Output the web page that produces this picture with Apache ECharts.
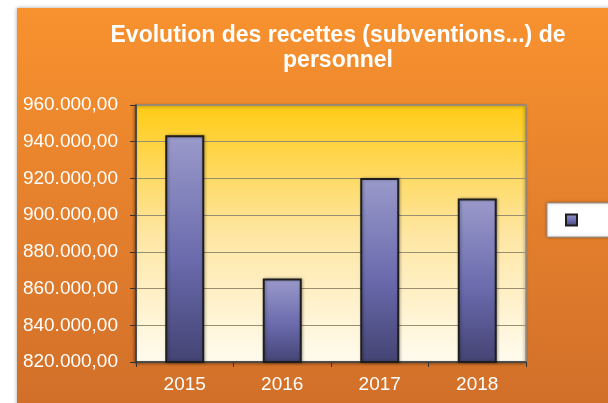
<!DOCTYPE html>
<html>
<head>
<meta charset="utf-8">
<script src="https://cdn.jsdelivr.net/npm/echarts@6/dist/echarts.min.js"></script>
<style>
  html, body { margin: 0; padding: 0; background: #fff; }
  #chart { width: 608px; height: 403px; }
</style>
</head>
<body>
<div id="chart"></div>
<script>
// données
var years = ['2015', '2016', '2017', '2018'];
var recettes = [943500, 865500, 920300, 909100];
var yMin = 820000;
var yMax = 960000;
var yStep = 20000;
var titleText = 'Evolution des recettes (subventions...) de\npersonnel';

function fmtEuro(v) {
  // 960000 -> 960.000,00
  var s = Math.round(v).toString();
  s = s.replace(/\B(?=(\d{3})+(?!\d))/g, '.');
  return s + ',00';
}

var chart = echarts.init(document.getElementById('chart'));

var barFill = new echarts.graphic.LinearGradient(0, 0, 0, 1, [
  { offset: 0, color: '#9a9acb' },
  { offset: 0.55, color: '#6a6aad' },
  { offset: 1, color: '#434373' }
]);

chart.setOption({
  animation: false,
  textStyle: { fontFamily: 'Liberation Sans, Arial, sans-serif' },
  graphic: [{
    type: 'rect',
    z: -10,
    shape: { x: 17, y: 8, width: 620, height: 420 },
    style: {
      fill: new echarts.graphic.LinearGradient(0, 0, 0, 1, [
        { offset: 0, color: '#f8922f' },
        { offset: 1, color: '#cf6d29' }
      ]),
      shadowBlur: 4,
      shadowColor: 'rgba(0,0,0,0.35)'
    }
  }],
  title: {
    text: titleText,
    left: 333,
    top: 18,
    textAlign: 'center',
    textStyle: {
      color: '#fff',
      fontSize: 23,
      fontWeight: 'bold',
      lineHeight: 25,
      fontFamily: 'Liberation Sans, Arial, sans-serif'
    }
  },
  legend: {
    data: [' '],
    left: 547,
    top: 203,
    orient: 'vertical',
    itemWidth: 11,
    itemHeight: 11,
    padding: [10, 60, 10, 18],
    backgroundColor: '#fff',
    borderColor: '#999',
    borderWidth: 1,
    shadowBlur: 3,
    shadowColor: 'rgba(0,0,0,0.3)',
    icon: 'rect',
    textStyle: { color: '#000', fontSize: 14 }
  },
  grid: {
    show: true,
    left: 136,
    top: 105,
    right: 82,
    bottom: 41,
    backgroundColor: new echarts.graphic.LinearGradient(0, 0, 0, 1, [
      { offset: 0, color: '#ffcb14' },
      { offset: 0.5, color: '#fee6a2' },
      { offset: 1, color: '#fffbef' }
    ]),
    borderColor: '#8a8a8a',
    borderWidth: 1.5,
    shadowBlur: 3,
    shadowColor: 'rgba(0,0,0,0.35)',
    shadowOffsetX: -1,
    shadowOffsetY: 1
  },
  xAxis: {
    type: 'category',
    data: years,
    axisLine: { lineStyle: { color: '#333', width: 1.5 } },
    axisTick: { show: true, length: 5, lineStyle: { color: '#333' } },
    axisLabel: { color: '#fff', fontSize: 19, margin: 13 }
  },
  yAxis: {
    type: 'value',
    min: yMin,
    max: yMax,
    interval: yStep,
    axisLine: { show: true, lineStyle: { color: '#333', width: 1.5 } },
    axisTick: { show: true, length: 6, lineStyle: { color: '#333' } },
    splitLine: { lineStyle: { color: '#9b8f72', width: 1 } },
    axisLabel: { color: '#fff', fontSize: 19, margin: 18, formatter: fmtEuro }
  },
  series: [{
    name: ' ',
    type: 'bar',
    data: recettes,
    barWidth: '40%',
    itemStyle: {
      color: barFill,
      borderColor: '#1e1e1e',
      borderWidth: 2,
      shadowBlur: 3,
      shadowColor: 'rgba(0,0,0,0.3)',
      shadowOffsetX: 1
    }
  }]
});
</script>
</body>
</html>
